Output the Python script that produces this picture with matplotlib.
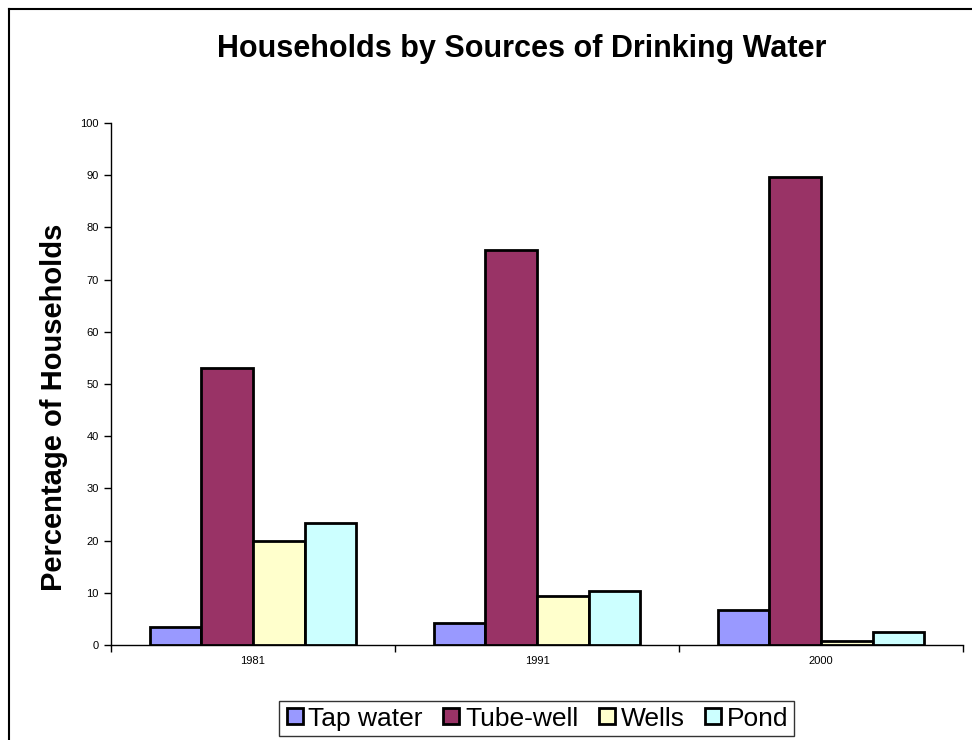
import numpy as np
import matplotlib.pyplot as plt
from matplotlib.lines import Line2D

plt.rcParams['font.family'] = ['Liberation Sans', 'DejaVu Sans']

years = ['1981', '1991', '2000']
sources = ['Tap water', 'Tube-well', 'Wells', 'Pond']
tap_water = [3.5, 4.3, 6.7]
tube_well = [53.0, 75.6, 89.7]
wells = [20.0, 9.4, 0.8]
pond = [23.3, 10.3, 2.4]
colors = ['#9999FF', '#993366', '#FFFFCC', '#CCFFFF']

series = [tap_water, tube_well, wells, pond]

fig = plt.figure(figsize=(9.72, 7.4), dpi=100)
ax = fig.add_axes([0.1142, 0.1284, 0.8765, 0.7054])

# excel-style clustered columns, gap width 150%
width = 1.0 / (len(series) + 1.5)
x = np.arange(len(years))
for i, (vals, c) in enumerate(zip(series, colors)):
    offs = (i - (len(series) - 1) / 2) * width
    ax.bar(x + offs, vals, width, color=c, edgecolor='black', linewidth=2,
           label=sources[i], zorder=3)

ax.set_xlim(-0.5, len(years) - 0.5)
ax.set_ylim(0, 100)
ax.set_yticks(np.arange(0, 101, 10))
ax.set_xticks(x)
ax.set_xticklabels(years)
ax.set_xticks(np.arange(-0.5, len(years), 1.0), minor=True)
ax.tick_params(axis='x', which='major', length=0, labelsize=8, pad=8)
ax.tick_params(axis='x', which='minor', length=5, direction='out', width=1)
ax.tick_params(axis='y', labelsize=8, length=5, direction='out', width=1, pad=4)

for s in ['top', 'right']:
    ax.spines[s].set_visible(False)
ax.spines['left'].set_linewidth(1)
ax.spines['bottom'].set_linewidth(1)

ax.set_ylabel('Percentage of Households', fontsize=21, fontweight='bold')
ax.yaxis.set_label_coords(-0.051, 0.455)
fig.text(0.537, 0.934, 'Households by Sources of Drinking Water', ha='center',
         va='center', fontsize=22, fontweight='bold')

handles = [Line2D([], [], marker='s', linestyle='none', markersize=12,
                  markerfacecolor=c, markeredgecolor='black', markeredgewidth=2)
           for c in colors]
leg = fig.legend(handles, sources, loc='center', bbox_to_anchor=(0.552, 0.029),
                 ncol=4, fontsize=19, frameon=True, fancybox=False,
                 handlelength=0.75, handletextpad=0.15, columnspacing=0.7,
                 borderpad=0.2)
leg.get_frame().set_edgecolor('black')
leg.get_frame().set_linewidth(1)

# outer chart frame
fig.add_artist(Line2D([8.5 / 972, 8.5 / 972], [0, 1 - 9 / 740], color='black', lw=1.5,
                      transform=fig.transFigure))
fig.add_artist(Line2D([8.5 / 972, 1], [1 - 9 / 740, 1 - 9 / 740], color='black', lw=1.5,
                      transform=fig.transFigure))

fig.savefig('out.png', dpi=100)
